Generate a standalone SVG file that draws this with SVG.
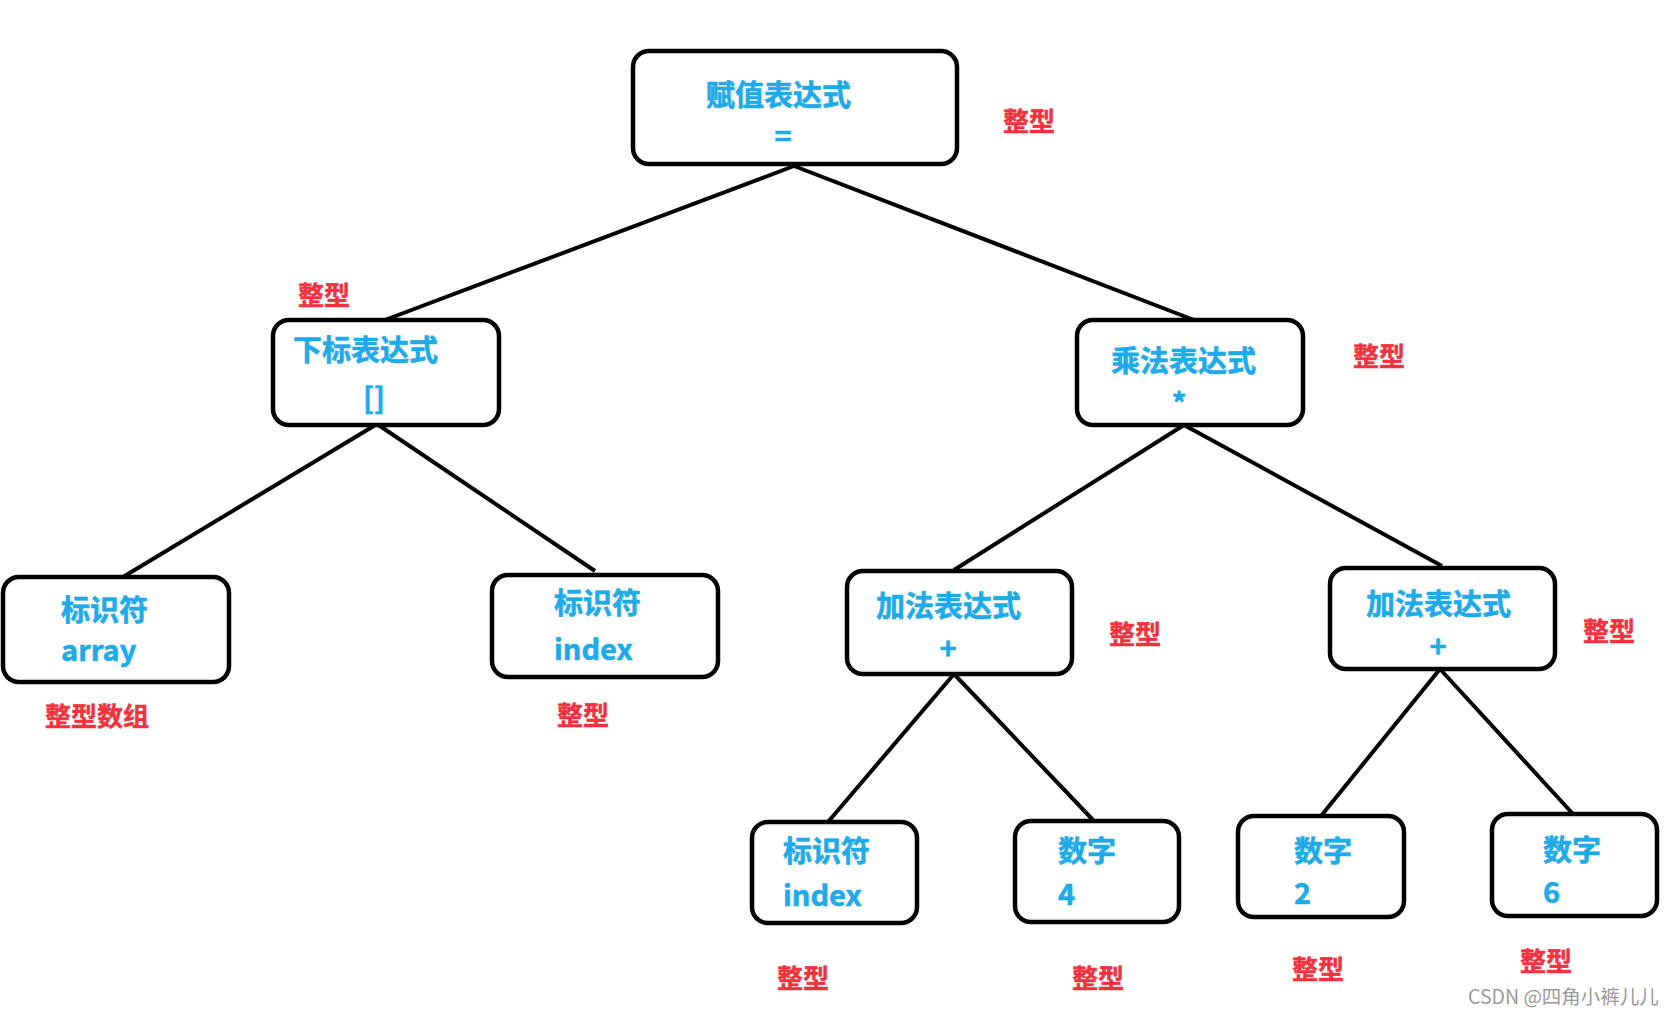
<svg xmlns="http://www.w3.org/2000/svg" width="1675" height="1017" viewBox="0 0 1675 1017">
<style>
.box{fill:#fff;stroke:#000;stroke-width:4.5}
.t{font-family:"Noto Sans CJK SC","Noto Sans",sans-serif;font-weight:bold;font-size:29px;fill:#1eaae8;stroke:#1eaae8;stroke-width:0.6}
.r{font-family:"Noto Sans CJK SC","Noto Sans",sans-serif;font-weight:bold;font-size:26px;fill:#f0323f;stroke:#f0323f;stroke-width:0.5}
.e{stroke:#000;stroke-width:4;fill:none}
.w{font-family:"Noto Sans CJK SC","Noto Sans",sans-serif;font-size:19.5px;fill:#999}
</style>
<rect width="1675" height="1017" fill="#fff"/>
<g id="connectors">
<line class="e" x1="794" y1="166" x2="385" y2="320"/>
<line class="e" x1="794" y1="166" x2="1194" y2="320"/>
<line class="e" x1="377" y1="424" x2="123" y2="577"/>
<line class="e" x1="377" y1="424" x2="595" y2="571"/>
<line class="e" x1="1184" y1="425" x2="954" y2="570"/>
<line class="e" x1="1184" y1="425" x2="1442" y2="566"/>
<line class="e" x1="954" y1="674" x2="828" y2="822"/>
<line class="e" x1="954" y1="674" x2="1093" y2="820"/>
<line class="e" x1="1440" y1="669" x2="1321" y2="816"/>
<line class="e" x1="1440" y1="669" x2="1573" y2="814"/>
</g>
<g id="n-assign">
<rect class="box" x="633" y="51" width="324" height="113" rx="16"/>
<text class="t" x="706" y="106">赋值表达式</text>
<text class="t" x="783" y="147" text-anchor="middle">=</text>
<text class="r" x="1003" y="131">整型</text>
</g>
<g id="n-subscript">
<rect class="box" x="273" y="320" width="226" height="105" rx="16"/>
<text class="t" x="293" y="361">下标表达式</text>
<text class="t" x="374" y="409" text-anchor="middle">[]</text>
<text class="r" x="298" y="305">整型</text>
</g>
<g id="n-mul">
<rect class="box" x="1077" y="320" width="226" height="105" rx="16"/>
<text class="t" x="1111" y="372">乘法表达式</text>
<text class="t" x="1179" y="414" text-anchor="middle">*</text>
<text class="r" x="1353" y="366">整型</text>
</g>
<g id="n-array">
<rect class="box" x="3" y="577" width="226" height="105" rx="16"/>
<text class="t" x="61" y="621">标识符</text>
<text class="t" x="61" y="661">array</text>
<text class="r" x="45" y="726">整型数组</text>
</g>
<g id="n-index1">
<rect class="box" x="492" y="575" width="226" height="102" rx="16"/>
<text class="t" x="554" y="614">标识符</text>
<text class="t" x="554" y="660">index</text>
<text class="r" x="557" y="725">整型</text>
</g>
<g id="n-add1">
<rect class="box" x="847" y="571" width="225" height="103" rx="16"/>
<text class="t" x="876" y="617">加法表达式</text>
<text class="t" x="948" y="659" text-anchor="middle">+</text>
<text class="r" x="1109" y="644">整型</text>
</g>
<g id="n-add2">
<rect class="box" x="1330" y="568" width="225" height="101" rx="16"/>
<text class="t" x="1366" y="615">加法表达式</text>
<text class="t" x="1438" y="657" text-anchor="middle">+</text>
<text class="r" x="1583" y="641">整型</text>
</g>
<g id="n-index2">
<rect class="box" x="752" y="822" width="165" height="101" rx="16"/>
<text class="t" x="783" y="862">标识符</text>
<text class="t" x="783" y="906">index</text>
<text class="r" x="777" y="988">整型</text>
</g>
<g id="n-num4">
<rect class="box" x="1015" y="821" width="164" height="101" rx="16"/>
<text class="t" x="1058" y="862">数字</text>
<text class="t" x="1058" y="905">4</text>
<text class="r" x="1072" y="988">整型</text>
</g>
<g id="n-num2">
<rect class="box" x="1238" y="816" width="166" height="101" rx="16"/>
<text class="t" x="1294" y="862">数字</text>
<text class="t" x="1294" y="904">2</text>
<text class="r" x="1292" y="979">整型</text>
</g>
<g id="n-num6">
<rect class="box" x="1492" y="814" width="165" height="102" rx="16"/>
<text class="t" x="1543" y="861">数字</text>
<text class="t" x="1543" y="903">6</text>
<text class="r" x="1520" y="971">整型</text>
</g>
<text class="w" x="1468" y="1004">CSDN @四角小裤儿儿</text>
</svg>
